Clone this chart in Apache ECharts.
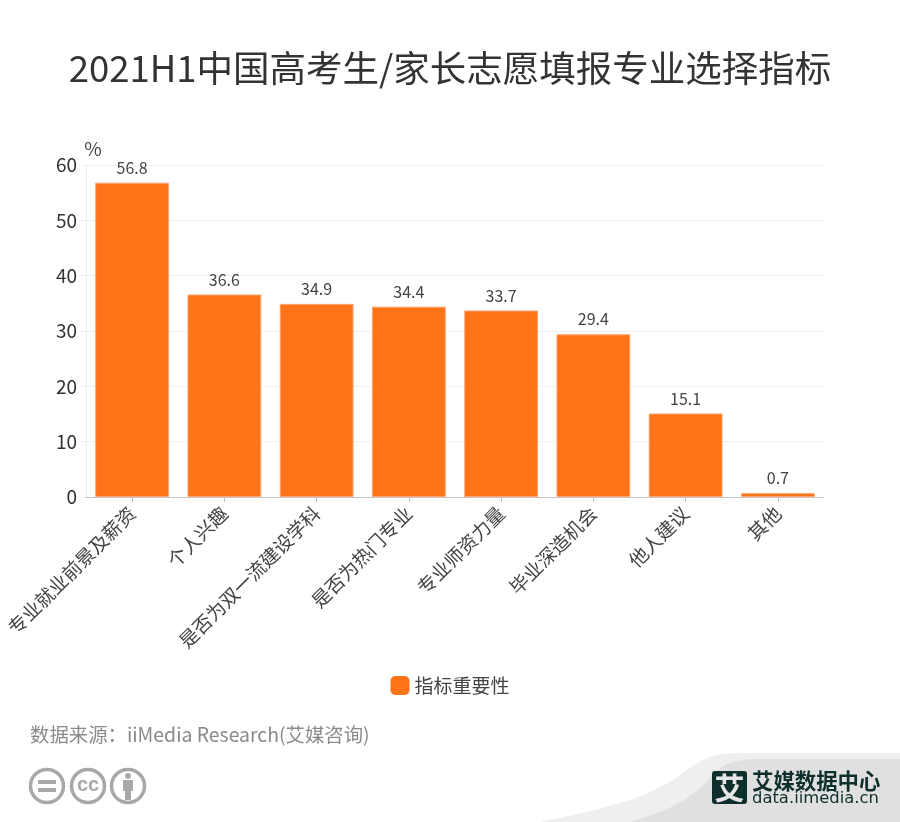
<!DOCTYPE html>
<html><head><meta charset="utf-8">
<style>html,body{margin:0;padding:0;background:#fff}#c{width:900px;height:822px}</style>
<script src="https://cdn.jsdelivr.net/npm/echarts@6/dist/echarts.min.js"></script>
</head><body><div id="c"></div>
<script>
const titleText = '2021H1中国高考生/家长志愿填报专业选择指标';
const categories = ['专业就业前景及薪资','个人兴趣','是否为双一流建设学科','是否为热门专业','专业师资力量','毕业深造机会','他人建议','其他'];
const values = [56.8,36.6,34.9,34.4,33.7,29.4,15.1,0.7];
const seriesName = '指标重要性';
const sourceText = '数据来源：iiMedia Research(艾媒咨询)';
const FF = '"Noto Sans CJK SC","Open Sans",sans-serif';
const chart = echarts.init(document.getElementById('c'), null, {renderer:'canvas'});
function circ(cx, children){
  return {type:'group', x:cx, y:786, silent:true, children:[
    {type:'circle', shape:{cx:0,cy:0,r:16.5}, style:{fill:'#fff',stroke:'#a8a8a8',lineWidth:3.5}}
  ].concat(children)};
}
function bez(p0,p1,p2,p3){
  const out=[];
  for(let i=0;i<=24;i++){const t=i/24,u=1-t;
    out.push([u*u*u*p0[0]+3*u*u*t*p1[0]+3*u*t*t*p2[0]+t*t*t*p3[0],
              u*u*u*p0[1]+3*u*u*t*p1[1]+3*u*t*t*p2[1]+t*t*t*p3[1]]);}
  return out;
}
const swooshOuter = bez([540,822],[640,802],[660,790],[690,768]).concat(bez([690,768],[705,757],[715,753],[745,753]),[[900,753],[900,822]]);
const swooshInner = bez([630,822],[665,812],[690,800],[708,780]).concat(bez([708,780],[720,765],[732,759],[760,759]),[[900,759],[900,822]]);
chart.setOption({
  animation:false,
  backgroundColor:'#fff',
  title:{text:titleText,left:'center',top:45,textStyle:{fontFamily:FF,fontSize:36.5,fontWeight:'normal',color:'#333'}},
  legend:{show:true,bottom:122,left:'center',itemWidth:19,itemHeight:19,itemGap:5,
    icon:'roundRect',itemStyle:{borderWidth:0},
    textStyle:{fontFamily:FF,fontSize:19,color:'#444'}},
  grid:{left:86,right:76,top:165,bottom:325,containLabel:false},
  xAxis:{type:'category',data:categories,
    axisLine:{lineStyle:{color:'#c4c4c4',width:1}},
    axisTick:{show:true,alignWithLabel:true,length:5,lineStyle:{color:'#c4c4c4'}},
    axisLabel:{interval:0,rotate:45,margin:13,fontFamily:FF,fontSize:19,color:'#444'}},
  yAxis:{type:'value',min:0,max:60,interval:10,name:'%',nameGap:7,
    nameTextStyle:{fontFamily:FF,fontSize:19,color:'#444',align:'center',padding:[0,0,0,14]},
    axisLine:{show:true,lineStyle:{color:'#eeeeee',width:1}},
    axisTick:{show:true,length:5,lineStyle:{color:'#eeeeee'}},
    axisLabel:{margin:9,fontFamily:FF,fontSize:19,color:'#333',padding:[0,0,2,0]},
    splitLine:{show:true,lineStyle:{color:'#f0f0f0',width:1}}},
  series:[{name:seriesName,type:'bar',data:values,barWidth:'80%',
    itemStyle:{color:'#ff7319',borderColor:'#ffa36b',borderWidth:1},
    label:{show:true,position:'top',distance:7,fontFamily:FF,fontSize:16,color:'#444'}}],
  graphic:[
    {type:'text',silent:true,style:{text:sourceText,x:30,y:735,verticalAlign:'middle',fontFamily:FF,fontSize:19.4,fill:'#8a8a8a'}},
    circ(47,[
      {type:'rect',shape:{x:-9,y:-6,width:18,height:4},style:{fill:'#a8a8a8'}},
      {type:'rect',shape:{x:-9,y:2,width:18,height:4},style:{fill:'#a8a8a8'}}]),
    circ(88,[
      {type:'text',style:{text:'cc',x:0,y:-1,align:'center',verticalAlign:'middle',fontFamily:'"Liberation Sans",sans-serif',fontWeight:'bold',fontSize:20,fill:'#a8a8a8'}}]),
    circ(128,[
      {type:'circle',shape:{cx:0,cy:-10,r:3},style:{fill:'#a8a8a8'}},
      {type:'rect',shape:{x:-5,y:-6,width:10,height:11,r:1},style:{fill:'#a8a8a8'}},
      {type:'rect',shape:{x:-3,y:4,width:6,height:10},style:{fill:'#a8a8a8'}}]),
    {type:'polygon',silent:true,shape:{points:swooshOuter},style:{fill:'#efefef'}},
    {type:'polygon',silent:true,shape:{points:swooshInner},style:{fill:'#e0e0e0'}},
    {type:'rect',silent:true,shape:{x:712,y:771,width:35,height:33,r:3},style:{fill:'#0e2f2c'}},
    {type:'text',silent:true,style:{text:'艾',x:729.5,y:787.5,align:'center',verticalAlign:'middle',fontFamily:FF,fontWeight:'bold',fontSize:30,fill:'#e6e6e6'}},
    {type:'text',silent:true,style:{text:'艾媒数据中心',x:752,y:781,verticalAlign:'middle',fontFamily:FF,fontWeight:'bold',fontSize:21.4,fill:'#0e2f2c'}},
    {type:'text',silent:true,style:{text:'data.iimedia.cn',x:752,y:799,verticalAlign:'middle',fontFamily:'"DejaVu Sans",sans-serif',fontSize:16.4,fill:'#0e2f2c'}}
  ]
});
</script></body></html>
